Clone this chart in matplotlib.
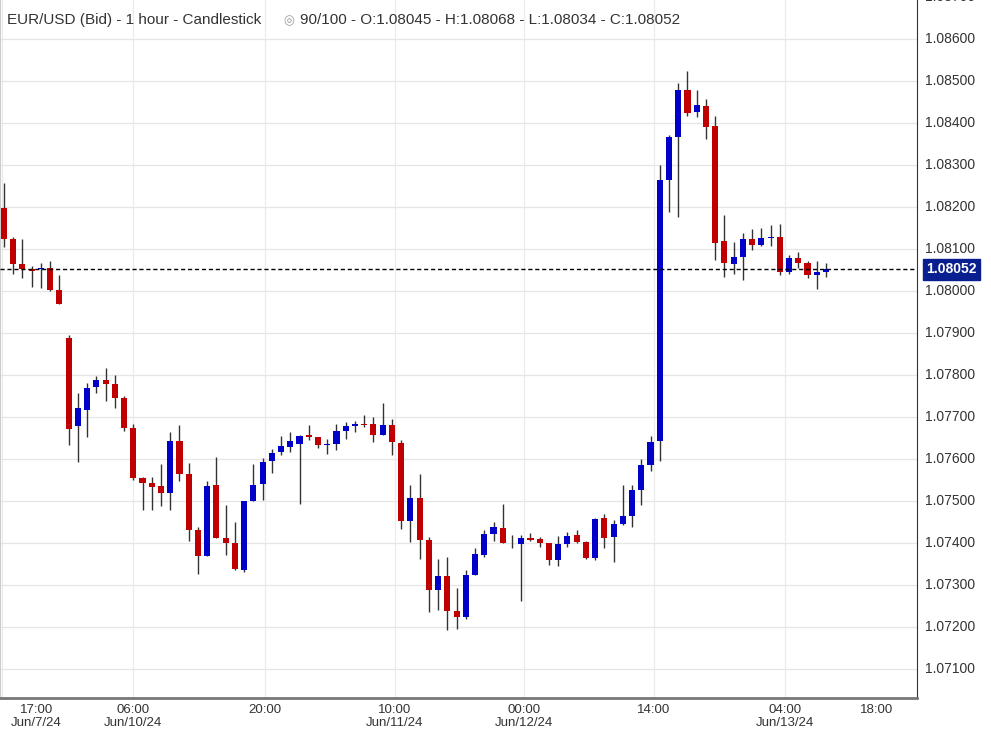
import matplotlib
matplotlib.use("Agg")
import matplotlib.pyplot as plt
import numpy as np

opens = [1.08198,1.08124,1.08065,1.08052,1.08052,1.08055,1.08003,1.07889,1.07680,1.07718,
         1.07773,1.07789,1.07780,1.07746,1.07675,1.07556,1.07544,1.07536,1.07520,1.07644,
         1.07566,1.07432,1.07370,1.07538,1.07413,1.07401,1.07337,1.07501,1.07542,1.07596,
         1.07617,1.07630,1.07637,1.07658,1.07653,1.07635,1.07637,1.07668,1.07680,1.07684,
         1.07684,1.07659,1.07682,1.07639,1.07454,1.07508,1.07409,1.07290,1.07322,1.07240,
         1.07225,1.07325,1.07372,1.07421,1.07437,1.07401,1.07398,1.07413,1.07410,1.07401,
         1.07360,1.07398,1.07420,1.07403,1.07365,1.07460,1.07415,1.07446,1.07465,1.07527,
         1.07586,1.07643,1.08266,1.08367,1.08479,1.08428,1.08441,1.08393,1.08120,1.08066,
         1.08082,1.08125,1.08110,1.08127,1.08129,1.08047,1.08079,1.08068,1.08040,1.08045]
closes = [1.08125,1.08066,1.08052,1.08049,1.08055,1.08003,1.07970,1.07673,1.07722,1.07770,
          1.07789,1.07780,1.07746,1.07675,1.07556,1.07544,1.07534,1.07520,1.07644,1.07566,
          1.07432,1.07370,1.07536,1.07413,1.07401,1.07340,1.07501,1.07538,1.07594,1.07615,
          1.07632,1.07644,1.07655,1.07654,1.07635,1.07637,1.07667,1.07679,1.07685,1.07682,
          1.07659,1.07682,1.07642,1.07454,1.07508,1.07409,1.07290,1.07322,1.07240,1.07225,
          1.07325,1.07375,1.07422,1.07439,1.07401,1.07400,1.07413,1.07408,1.07401,1.07360,
          1.07398,1.07418,1.07403,1.07365,1.07458,1.07413,1.07446,1.07465,1.07527,1.07586,
          1.07641,1.08265,1.08367,1.08479,1.08425,1.08444,1.08392,1.08116,1.08068,1.08082,
          1.08125,1.08111,1.08127,1.08128,1.08047,1.08079,1.08068,1.08040,1.08046,1.08052]
highs = [1.08259,1.08129,1.08124,1.08060,1.08067,1.08072,1.08039,1.07896,1.07759,1.07782,
         1.07799,1.07817,1.07801,1.07751,1.07684,1.07557,1.07558,1.07589,1.07665,1.07682,
         1.07591,1.07439,1.07548,1.07605,1.07491,1.07451,1.07501,1.07589,1.07603,1.07625,
         1.07655,1.07665,1.07658,1.07682,1.07653,1.07648,1.07684,1.07689,1.07691,1.07705,
         1.07701,1.07734,1.07696,1.07646,1.07539,1.07565,1.07415,1.07363,1.07367,1.07294,
         1.07336,1.07389,1.07432,1.07451,1.07494,1.07420,1.07420,1.07425,1.07415,1.07401,
         1.07418,1.07427,1.07432,1.07406,1.07460,1.07470,1.07455,1.07539,1.07539,1.07601,
         1.07655,1.08301,1.08372,1.08496,1.08525,1.08479,1.08458,1.08417,1.08182,1.08117,
         1.08139,1.08148,1.08151,1.08158,1.08160,1.08086,1.08094,1.08072,1.08072,1.08068]
lows = [1.08106,1.08041,1.08032,1.08011,1.08009,1.08001,1.07970,1.07634,1.07594,1.07652,
        1.07759,1.07740,1.07721,1.07668,1.07550,1.07480,1.07480,1.07490,1.07480,1.07549,
        1.07406,1.07328,1.07370,1.07413,1.07373,1.07337,1.07332,1.07501,1.07504,1.07568,
        1.07611,1.07617,1.07494,1.07646,1.07628,1.07613,1.07623,1.07649,1.07666,1.07678,
        1.07641,1.07657,1.07611,1.07435,1.07404,1.07363,1.07237,1.07242,1.07194,1.07197,
        1.07220,1.07325,1.07368,1.07406,1.07401,1.07389,1.07263,1.07406,1.07391,1.07348,
        1.07346,1.07391,1.07401,1.07363,1.07360,1.07389,1.07355,1.07444,1.07439,1.07491,
        1.07572,1.07596,1.08190,1.08178,1.08418,1.08416,1.08363,1.08075,1.08035,1.08042,
        1.08028,1.08099,1.08108,1.08108,1.08040,1.08042,1.08056,1.08032,1.08006,1.08034]

time_labels = ["17:00", "06:00", "20:00", "10:00", "00:00", "14:00", "04:00", "18:00"]
date_labels = ["Jun/7/24", "Jun/10/24", "", "Jun/11/24", "Jun/12/24", "", "Jun/13/24", ""]
label_pos = [3.5, 14.0, 28.26, 42.33, 56.30, 70.38, 84.56, 94.5]
grid_pos = [-0.22, 14.0, 28.26, 42.33, 56.30, 70.38, 84.56]
price_ticks = [1.071 + 0.001 * k for k in range(17)]
last_price = 1.08052

W, H = 991, 732
fig = plt.figure(figsize=(W / 100, H / 100), dpi=100)
ax = fig.add_axes([0, 34 / H, 917 / W, 698 / H])
xmin, xmax = -0.43, 98.85
ax.set_xlim(xmin, xmax)
ax.set_ylim(1.070317, 1.086936)

for g in grid_pos:
    ax.axvline(g, color="#ebebeb", lw=0.9, zorder=0)
for p in price_ticks:
    ax.axhline(p, color="#e6e6e6", lw=0.9, zorder=0)

red, blue = "#c00000", "#0000c8"
for i, (o, c, h, l) in enumerate(zip(opens, closes, highs, lows)):
    col = blue if c >= o else red
    ax.vlines(i, l, h, color="#333333", lw=1, zorder=2)
    bh = max(abs(c - o), 0.000015)
    ax.bar(i, bh, bottom=min(o, c), width=0.66, color=col, zorder=3, linewidth=0)

ax.axhline(last_price, color="#000000", lw=1, ls=(0, (3, 2)), zorder=4)

ax.set_xticks([])
ax.set_yticks([])
ax.spines["top"].set_visible(False)
ax.spines["left"].set_color("#cccccc")
ax.spines["right"].set_color("#333333")
ax.spines["bottom"].set_color("#777777")
ax.spines["bottom"].set_linewidth(2)

trans = ax.get_yaxis_transform()
for p in price_ticks:
    ax.text(1.009, p, f"{p:.5f}", transform=trans, ha="left", va="center",
            fontsize=10, color="#333333", family="Liberation Sans", clip_on=False)
ax.text(1.01, last_price, f"{last_price:.5f}", transform=trans, ha="left", va="center",
        fontsize=10, color="white", fontweight="bold", family="Liberation Sans",
        bbox=dict(boxstyle="square,pad=0.25", fc="#0a1f8f", ec="#0a1f8f"), zorder=10)

xt = ax.get_xaxis_transform()
for pos, t, d in zip(label_pos, time_labels, date_labels):
    ax.text(pos, -12 / 698, t, transform=xt, ha="center", va="center", fontsize=9.5,
            color="#333333", family="Liberation Sans", clip_on=False)
    if d:
        ax.text(pos, -25 / 698, d, transform=xt, ha="center", va="center", fontsize=9.5,
                color="#333333", family="Liberation Sans", clip_on=False)

fig.text(7 / W, 1 - 20 / H, "EUR/USD (Bid) - 1 hour - Candlestick", ha="left", va="center",
         fontsize=11, color="#333333", family="Liberation Sans")
fig.text(300 / W, 1 - 20 / H, "90/100 - O:1.08045 - H:1.08068 - L:1.08034 - C:1.08052",
         ha="left", va="center", fontsize=11, color="#333333", family="Liberation Sans")
fig.text(289 / W, 1 - 21 / H, "◎", ha="center", va="center", fontsize=9, color="#999999",
         family="DejaVu Sans")

fig.savefig("out.png", dpi=100, facecolor="white")
